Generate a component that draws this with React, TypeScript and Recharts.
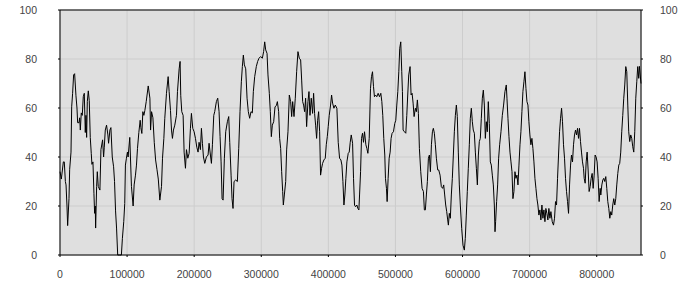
import {
  CartesianGrid,
  Line,
  LineChart,
  ReferenceLine,
  XAxis,
  YAxis,
} from 'recharts';

// sample positions, in thousands along the x axis
const positionsK = [
  0, 2, 5, 6.4, 8, 9, 10.4, 11.4, 13.4, 14.4, 16.4, 17.4, 18.8, 20.3, 21.8, 23.8, 25.3, 26.3, 28.3, 29.3,
  30.3, 31.7, 33.2, 34.7, 36.2, 37.7, 38.7, 39.7, 40.7, 42.2, 43.6, 45.1, 46.6, 47.6, 49.1, 50.6, 51.6, 52.6, 53.1, 54.6,
  55.6, 57, 59.5, 61, 63.5, 65, 66, 67.5, 69.4, 71.4, 72.4, 74.4, 75.9, 77.9, 79.9, 81.3, 82.8, 84.3, 86, 89,
  91.5, 93, 95, 96.5, 97.5, 99, 100.5, 101.5, 104, 106.5, 109, 110.5, 112.5, 114, 115.5, 117.5, 119.5, 120.5, 122, 123.5,
  125, 126.5, 128.5, 131.5, 134, 135, 136.5, 138.5, 140.5, 142.5, 144.5, 146.5,
  148.8, 151.3, 152.8, 154.8, 156.2, 158.7, 161.2, 162.7, 164.7, 166.2, 167.6, 169.1, 171.1, 173.6, 175.1, 177.6, 179, 180,
  181.5, 183.5, 185, 187, 188.5, 190.5, 192.5, 194.4, 195.9, 197.9, 199.9, 201.9, 203.9, 205.8, 207.3, 209.3, 210.8, 212.3,
  213.8, 215.8, 218.2, 220.7, 222.2, 224.2, 225.7, 227.2, 229.2, 230.6, 233.1, 235.1, 237.1, 238.6, 240.1, 241.6, 243.1, 245,
  247, 249.5, 251.5, 253, 255, 256.4, 257.9, 259.4, 261.9, 264.4, 266.4, 268.3, 270.3, 271.8, 273.3, 274.8, 276.8, 278.8,
  280.7, 282.7, 284.7, 286.7, 288.2, 290.2, 292.6, 294.6, 296.6, 299.1, 301.6, 303.5,
  305.1, 306.6, 308.6, 310, 312, 313.5, 315, 316.5, 318.5, 320.5, 322.5, 324, 325.9, 327.4, 328.9, 330.4, 331.9, 332.9,
  334.4, 336.4, 337.8, 339.8, 341.8, 343.8, 345.3, 346.8, 348.8, 350.7, 352.7, 354.7, 356.7, 358.7, 360.2, 361.7, 363.1, 364.6,
  366.1, 367.6, 369.6, 371.1, 372.6, 374.5, 376.5, 378, 379.5, 381, 382.5, 384, 385.5, 387, 388.4, 389.9, 391.4, 393.4,
  395.4, 396.9, 398.4, 399.8, 401.3, 403.3, 404.8, 406.3, 408.3, 410.3, 412.7, 414.7, 416.7, 418.7, 420.2, 421.7, 423.2, 424.6,
  426.1, 427.6, 429.6, 431.1, 432.6, 434.1, 436.1, 437.5, 439, 440.5, 442.5, 444, 445.5, 446.5, 448, 449.4, 450.9, 452.4,
  453.9, 455.9, 457.4, 458.9, 460.9,
  462.8, 464.3, 465.8, 467.3, 468.7, 470.2, 472.2, 474.2, 476.2, 478.2, 479.7, 481.1, 482.6, 484.1, 485.1, 486.6, 487.6, 489.1,
  490.6, 492.1, 493.5, 495, 497, 499, 500.5, 502, 503.5, 505, 506.4, 507.9, 509.4, 510.4, 511.4, 513.4, 515.4, 516.9,
  518.3, 519.8, 521.8, 523.3, 524.8, 526.3, 527.8, 529.7, 531.2, 532.7, 534.2, 535.7, 537.7, 539.7, 541.7, 543.1, 544.6, 546.1,
  547.6, 549.1, 550.6, 552.1, 553.6, 555.1, 556.5, 558, 559.5, 561, 563, 564.5, 566.5, 568.4, 570.4, 571.9, 573.4, 574.9,
  576.4, 577.9, 578.9, 580.3, 581.8, 583.3, 584.8, 586.3, 587.8, 589.3, 590.8, 592.2, 593.7, 595.2, 596.7, 598.7, 600.7, 602.7,
  604.1, 605.6, 607.1, 608.6, 610.1, 611.6, 613.1, 614.6, 616,
  617.6, 619.1, 620.6, 622.1, 623.6, 625, 626.5, 628, 629.5, 631, 632.5, 634, 635.5, 636.9, 638.4, 639.9, 641.4, 642.9,
  644.4, 645.9, 647.4, 648.4, 649.3, 650.8, 652.3, 653.8, 655.3, 657.3, 659.3, 661.2, 663.2, 665.2, 666.2, 667.7, 669.2, 670.7,
  672.2, 673.7, 675.1, 676.6, 678.1, 679.6, 681.1, 682.6, 684.1, 685.6, 687, 688.5, 690, 691.5, 693, 694.5, 696, 697.5,
  698.9, 700.4, 701.9, 703.4, 704.9, 706.4, 707.9, 709.4, 710.9, 712.3, 713.8, 715.3, 716.8, 718.3, 719.8, 721.3, 722.8, 724.2,
  725.7, 727.2, 728.7, 730.2, 731.7, 733.7, 735.6, 737.1, 738.6, 740.1, 741.6, 743.1, 744.6, 746.1, 747.6, 749, 750.5, 752,
  753.5, 755, 756.5, 758, 759.5, 761, 762.4, 763.9, 765.4, 766.9, 768.4, 769.9, 771.4, 772.9, 774.3, 775.8, 777.3, 778.8, 780.3,
  781.3, 782.8, 784.3, 785.7, 787.2, 788.7, 790.2, 791.7, 793.2, 794.7, 796.2, 797.6, 799.1, 800.6, 802.1, 803.6, 805.1, 806.1,
  807.6, 809.1, 810.5, 812, 813.5, 815, 816.5, 818, 819.5, 821, 822.4, 823.9, 825.4, 826.9, 828.4, 829.9, 831.4, 832.9,
  834.3, 835.8, 837.3, 838.8, 840.3, 841.8, 843.3, 844.8, 846.3, 847.7, 849.2, 850.7, 852.2, 853.7, 855.2, 856.7, 858.2, 859.7,
  861.1, 862.6, 863.6, 866,
];

const values = [
  34, 31, 38, 38, 30, 28.6, 20, 12, 23, 35, 42, 60.5, 66, 73.5, 74, 65, 60, 54, 54, 56,
  51, 58, 57, 64.6, 66, 50, 57, 48, 62.6, 67, 63, 48, 41.5, 37, 38, 25, 17, 20, 11, 28,
  34, 28, 26.5, 43, 47, 40, 44, 51, 53, 49, 45.6, 51, 52, 40, 36, 30, 18, 11, 0, 0,
  0, 6.8, 13.6, 21, 36.7, 39.5, 42, 40, 48, 28, 20, 28.6, 32.6, 36.7, 43.5, 50, 55, 52, 49.6, 58.5,
  57, 59, 62.6, 69, 64, 51, 58.5, 56, 46, 38.8, 35, 31,
  22.4, 28, 39.5, 47.6, 55.8, 66, 72.8, 66.7, 59, 51, 47.6, 51, 53, 57, 66.7, 76, 79, 65,
  58.5, 57, 42, 35.4, 43, 39.5, 41.5, 51.7, 57.8, 51.7, 50.3, 47.6, 44, 42, 46, 43, 51.7, 45.6,
  40, 37.4, 40, 40.8, 45.6, 40.8, 37.4, 45, 57, 58.5, 62.6, 64, 58.5, 48.3, 38, 23, 22.4, 39.5,
  50.3, 54.4, 56.5, 46, 32.6, 23, 19, 30, 30.6, 30, 43.5, 58.5, 70.7, 76.9, 81.6, 77.6, 76, 64,
  58.5, 55.8, 58.5, 58, 66.7, 72.8, 76.9, 79, 80.3, 81, 80.3, 83,
  87, 83.7, 82.3, 73.5, 66, 58.5, 48.3, 53, 54.4, 60.5, 61, 62.6, 58.5, 47.6, 43.5, 34, 25.9, 20.4,
  24.5, 30, 42.9, 50.3, 65.3, 62.6, 56.5, 62.6, 56.5, 64, 74.8, 83, 80.3, 79.6, 71.4, 62.6, 61.2, 58.5,
  64, 52.4, 62.6, 66.7, 57, 64, 57.8, 66, 57.8, 53, 47.6, 55, 58.5, 50.3, 32.6, 35.4, 37.4, 38.8,
  39.5, 45, 48.3, 52.4, 57, 61.2, 65.3, 62, 59.9, 61.2, 59.9, 46, 39.5, 38.8, 36.7, 30, 20.4, 24.5,
  31.3, 38, 41.5, 42, 46, 49, 45.6, 31.3, 20.4, 19.7, 20.4, 19, 18.4, 24.5, 34, 47.6, 49.7, 46,
  50.3, 45, 43.5, 41.5, 47.6,
  68, 72.8, 74.8, 68.7, 64.6, 65.3, 64.6, 66, 64.6, 66, 62.6, 57, 47.6, 40.8, 31.3, 27.2, 21.8, 31.3,
  39.5, 42, 47.6, 49.7, 50.3, 53.7, 55, 61.2, 66.7, 74.8, 84.4, 87, 74.8, 66.7, 51, 50.3, 49.7, 57,
  65.3, 73.5, 76.9, 65.3, 66, 62, 56.5, 59.9, 58.5, 63.3, 57.8, 43.5, 34, 27.2, 25.9, 18.4, 18.4, 24.5,
  30, 39.5, 40.8, 34, 45, 50.3, 51.7, 49.7, 45, 39.5, 34.7, 34.7, 32.6, 27.9, 27.2, 28.6, 24.5, 20.4,
  17.7, 14.3, 12.2, 17, 15, 24.5, 31.3, 40.8, 50.3, 57, 61.2, 56.5, 42, 28.6, 20.4, 10.9, 4, 2,
  6.8, 16.3, 25.9, 35.4, 45, 55.8, 59.9, 54.4, 51,
  49.7, 42, 35.4, 28.6, 40.8, 46.3, 47.6, 55.8, 64, 67.3, 61.2, 47.6, 54.4, 50.3, 62.6, 53.7, 38, 36.7,
  32.6, 28.6, 20.4, 9.5, 13.6, 21.8, 28.6, 39.5, 45, 50.3, 57, 61.2, 66.7, 69.4, 64, 55.8, 48.3, 42,
  38, 34, 23, 25.9, 34, 31.3, 32.6, 28.6, 36.7, 45, 50.3, 58.5, 66.7, 70.7, 74.8, 68, 62.6, 61.2,
  54.4, 49, 45, 47.6, 43.5, 38, 31.3, 27.2, 23, 20.4, 16.3, 18.4, 14.3, 20.4, 15, 18.4, 13.6, 19,
  17, 14.3, 19, 15, 17.7, 13.6, 12.2, 15, 21.8, 20.4, 31.3, 40.8, 50.3, 55.8, 59.9, 54.4, 45, 39.5,
  31.3, 25.9, 21.8, 17, 28.6, 36.7, 40.8, 38, 45, 49, 51, 49, 51.7, 47.6, 51.7, 46.3, 42, 38, 35.4,
  31.3, 29.3, 38, 42, 34.7, 25.9, 27.9, 31.3, 33.3, 27.2, 32.6, 40.8, 40, 38, 31.3, 21.8, 27.2, 24.5,
  28.6, 30.6, 31.3, 30, 32, 27.2, 21.8, 19, 15, 17.7, 16.3, 20.4, 23, 20.4, 23, 28.6, 33.3, 36.7,
  37.4, 42, 50.3, 57, 64, 69.4, 76.9, 74.8, 61.2, 50.3, 46.3, 49, 47.6, 44.2, 42, 50.3, 64, 70.7,
  76.9, 72.1, 77, 70,
];

const xTicks = [0, 100000, 200000, 300000, 400000, 500000, 600000, 700000, 800000];
const yTicks = [0, 20, 40, 60, 80, 100];

const data = positionsK.map((k, i) => ({ x: k * 1000, y: values[i] }));

const tickFont = { fill: '#444', fontSize: 10.5, fontFamily: 'Liberation Sans' };

export default function App() {
  return (
    <div style={{ position: 'absolute', left: 0, top: 0 }}>
      <LineChart width={700} height={300} data={data} margin={{ top: 10, right: 0, bottom: 0, left: 0 }}>
        <CartesianGrid yAxisId="left" fill="#dfdfdf" stroke="#cdcdcd" />
        <XAxis
          dataKey="x"
          type="number"
          domain={[0, 'dataMax']}
          ticks={xTicks}
          interval={0}
          height={45}
          tickSize={2}
          tickMargin={14}
          axisLine={{ stroke: '#000' }}
          tickLine={{ stroke: '#000' }}
          tick={tickFont}
        />
        <YAxis
          yAxisId="left"
          domain={[0, 100]}
          ticks={yTicks}
          interval={0}
          width={60}
          tickSize={2}
          tickMargin={21}
          axisLine={{ stroke: '#000' }}
          tickLine={{ stroke: '#000' }}
          tick={tickFont}
        />
        <YAxis
          yAxisId="right"
          orientation="right"
          domain={[0, 100]}
          ticks={yTicks}
          interval={0}
          width={59}
          tickSize={2}
          tickMargin={17}
          axisLine={{ stroke: '#000' }}
          tickLine={{ stroke: '#000' }}
          tick={tickFont}
        />
        <ReferenceLine yAxisId="left" y={100} stroke="#000" />
        {/* same series bound to the right axis, drawn invisible, so that axis is laid out */}
        <Line
          yAxisId="right"
          type="linear"
          dataKey="y"
          stroke="none"
          dot={false}
          activeDot={false}
          isAnimationActive={false}
        />
        <Line
          yAxisId="left"
          type="linear"
          dataKey="y"
          stroke="#000"
          strokeWidth={1}
          dot={false}
          isAnimationActive={false}
        />
      </LineChart>
    </div>
  );
}
